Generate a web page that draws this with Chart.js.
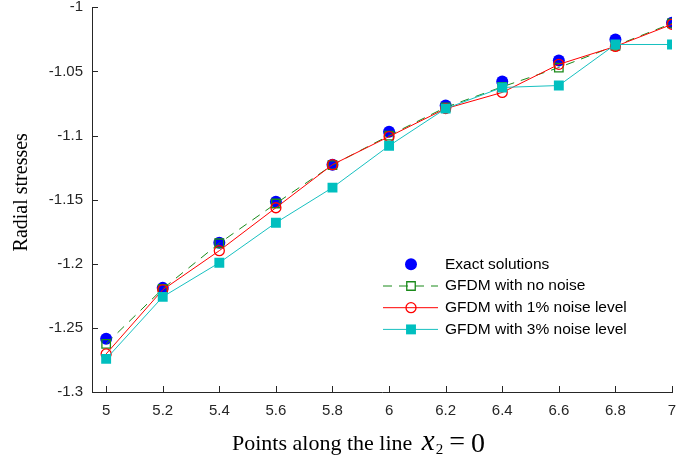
<!DOCTYPE html>
<html>
<head>
<meta charset="utf-8">
<script src="https://cdn.jsdelivr.net/npm/chart.js@4/dist/chart.umd.min.js"></script>
<style>
  html, body { margin: 0; padding: 0; background: #fff; }
  #wrap { width: 686px; height: 466px; }
</style>
</head>
<body>
<div id="wrap"><canvas id="chart" width="686" height="466"></canvas></div>
<script>
// points along the line x2 = 0
let xValues = [5, 5.2, 5.4, 5.6, 5.8, 6, 6.2, 6.4, 6.6, 6.8, 7];
let exact = [-1.2585, -1.2188, -1.1836, -1.1516, -1.1227, -1.0970, -1.0766, -1.0578, -1.0414, -1.0252, -1.0120];
let noNoise = [-1.2625, -1.2195, -1.1840, -1.1530, -1.1230, -1.1000, -1.0780, -1.0620, -1.0470, -1.0300, -1.0125];
let noise1 = [-1.2703, -1.2203, -1.1898, -1.1563, -1.1227, -1.1008, -1.0790, -1.0664, -1.0445, -1.0305, -1.0133];
let noise3 = [-1.2742, -1.2258, -1.1992, -1.1680, -1.1406, -1.1080, -1.0790, -1.0625, -1.0610, -1.0290, -1.0290];
let seriesNames = ['Exact solutions', 'GFDM with no noise', 'GFDM with 1% noise level', 'GFDM with 3% noise level'];
let xTicks = [5, 5.2, 5.4, 5.6, 5.8, 6, 6.2, 6.4, 6.6, 6.8, 7];
let yTicks = [-1.3, -1.25, -1.2, -1.15, -1.1, -1.05, -1];

let axisColor = '#262626';
let sansFont = "'Liberation Sans', Arial, sans-serif";
let serifFont = "'Liberation Serif', 'Times New Roman', serif";

function toPoints(ys) {
    return ys.map((y, i) => ({ x: xValues[i], y: y }));
}

// tick marks pointing into the plot, like the original
const innerTicks = {
    id: 'innerTicks',
    afterDraw(chart) {
        let ctx = chart.ctx;
        let xs = chart.scales.x;
        let ys = chart.scales.y;
        let area = chart.chartArea;
        ctx.save();
        ctx.strokeStyle = axisColor;
        ctx.lineWidth = 1;
        ctx.beginPath();
        xTicks.forEach((v) => {
            let px = Math.round(xs.getPixelForValue(v)) + 0.5;
            ctx.moveTo(px, area.bottom);
            ctx.lineTo(px, area.bottom - 6);
        });
        yTicks.forEach((v) => {
            let py = Math.round(ys.getPixelForValue(v)) + 0.5;
            ctx.moveTo(area.left, py);
            ctx.lineTo(area.left + 6, py);
        });
        ctx.stroke();
        ctx.restore();
    }
};

// legend with line samples + markers inside the plot
const boxLegend = {
    id: 'boxLegend',
    afterDraw(chart) {
        let ctx = chart.ctx;
        let area = chart.chartArea;
        let x0 = area.left + 291;
        let y0 = area.top + 257;
        let rowH = 21.7;
        ctx.save();
        chart.data.datasets.forEach((ds, i) => {
            let y = y0 + i * rowH;
            if (ds.showLine !== false) {
                ctx.strokeStyle = ds.borderColor;
                ctx.lineWidth = ds.borderWidth;
                ctx.setLineDash(ds.borderDash || []);
                ctx.beginPath();
                ctx.moveTo(x0, y);
                ctx.lineTo(x0 + 55, y);
                ctx.stroke();
                ctx.setLineDash([]);
            }
            ctx.fillStyle = ds.pointBackgroundColor;
            ctx.strokeStyle = ds.pointBorderColor;
            ctx.lineWidth = ds.pointBorderWidth;
            Chart.helpers.drawPoint(ctx, {
                pointStyle: ds.pointStyle,
                radius: ds.pointRadius,
                rotation: 0,
                borderWidth: ds.pointBorderWidth
            }, x0 + 28, y);
            ctx.fillStyle = '#000';
            ctx.font = '15.5px ' + sansFont;
            ctx.textAlign = 'left';
            ctx.textBaseline = 'middle';
            ctx.fillText(ds.label, x0 + 62, y);
        });
        ctx.restore();
    }
};

// axis titles (x one has a math part)
const axisTitles = {
    id: 'axisTitles',
    afterDraw(chart) {
        let ctx = chart.ctx;
        let area = chart.chartArea;
        ctx.save();
        ctx.fillStyle = '#000';

        // y title
        ctx.save();
        ctx.translate(27, area.top + 185);
        ctx.rotate(-Math.PI / 2);
        ctx.font = '20px ' + serifFont;
        ctx.textAlign = 'center';
        ctx.textBaseline = 'alphabetic';
        ctx.fillText('Radial stresses', 0, 0);
        ctx.restore();

        // x title
        let x = area.left + 140;
        let base = area.bottom + 58;
        ctx.textAlign = 'left';
        ctx.textBaseline = 'alphabetic';
        ctx.font = '22px ' + serifFont;
        let t = 'Points along the line ';
        ctx.fillText(t, x, base);
        x += ctx.measureText(t).width + 4;
        ctx.font = 'italic 29px ' + serifFont;
        ctx.fillText('x', x, base);
        x += ctx.measureText('x').width + 1;
        ctx.font = '15px ' + serifFont;
        ctx.fillText('2', x, base + 4);
        x += ctx.measureText('2').width + 6;
        ctx.font = '28px ' + serifFont;
        ctx.fillText('=', x, base);
        x += ctx.measureText('=').width + 6;
        ctx.fillText('0', x, base + 2);
        ctx.restore();
    }
};

// drop the extra room Chart.js keeps for half-labels at the axis ends
function noEndPadding(axis) {
    axis.paddingTop = 0;
    axis.paddingBottom = 0;
    axis.paddingLeft = 0;
    axis.paddingRight = 0;
}

let chartArea = document.getElementById('chart').getContext('2d');

let myChart = new Chart(chartArea, {
    type: 'scatter',
    data: {
        datasets: [{
            label: seriesNames[0],
            data: toPoints(exact),
            showLine: false,
            pointStyle: 'circle',
            pointRadius: 6,
            pointBackgroundColor: '#0000ff',
            pointBorderColor: '#0000ff',
            pointBorderWidth: 0,
            borderColor: '#0000ff',
            borderWidth: 0,
            order: 4
        }, {
            label: seriesNames[1],
            data: toPoints(noNoise),
            showLine: true,
            borderColor: '#1a8a1a',
            borderWidth: 1,
            borderDash: [9, 7],
            pointStyle: 'rect',
            pointRadius: 6,
            pointBackgroundColor: 'rgba(0,0,0,0)',
            pointBorderColor: '#1a8a1a',
            pointBorderWidth: 1.3,
            order: 3
        }, {
            label: seriesNames[2],
            data: toPoints(noise1),
            showLine: true,
            borderColor: '#ff0000',
            borderWidth: 1,
            pointStyle: 'circle',
            pointRadius: 5,
            pointBackgroundColor: 'rgba(0,0,0,0)',
            pointBorderColor: '#ff0000',
            pointBorderWidth: 1.3,
            order: 2
        }, {
            label: seriesNames[3],
            data: toPoints(noise3),
            showLine: true,
            borderColor: '#17c0c0',
            borderWidth: 1,
            pointStyle: 'rect',
            pointRadius: 7,
            pointBackgroundColor: '#00bfbf',
            pointBorderColor: '#00bfbf',
            pointBorderWidth: 0,
            order: 1
        }]
    },
    options: {
        responsive: false,
        animation: false,
        layout: {
            padding: { left: 0, top: 7, right: 14, bottom: 0 }
        },
        plugins: {
            legend: { display: false },
            tooltip: { enabled: false }
        },
        elements: {
            line: { tension: 0 }
        },
        scales: {
            x: {
                type: 'linear',
                min: 4.95,
                max: 7,
                grid: { display: false, drawTicks: false },
                border: { display: true, color: axisColor, width: 1 },
                afterBuildTicks: (axis) => {
                    axis.ticks = xTicks.map((v) => ({ value: v }));
                },
                afterFit: (axis) => {
                    axis.height = 74;
                    noEndPadding(axis);
                },
                ticks: {
                    padding: 10,
                    color: axisColor,
                    font: { family: sansFont, size: 15 },
                    maxRotation: 0,
                    callback: (v) => String(Number(v.toFixed(1)))
                }
            },
            y: {
                type: 'linear',
                min: -1.3,
                max: -1,
                grid: { display: false, drawTicks: false },
                border: { display: true, color: axisColor, width: 1 },
                afterBuildTicks: (axis) => {
                    axis.ticks = yTicks.map((v) => ({ value: v }));
                },
                afterFit: (axis) => {
                    axis.width = 92;
                    noEndPadding(axis);
                },
                ticks: {
                    padding: 9,
                    color: axisColor,
                    font: { family: sansFont, size: 15 },
                    callback: (v) => String(Number(v.toFixed(2)))
                }
            }
        }
    },
    plugins: [innerTicks, boxLegend, axisTitles]
});
</script>
</body>
</html>
